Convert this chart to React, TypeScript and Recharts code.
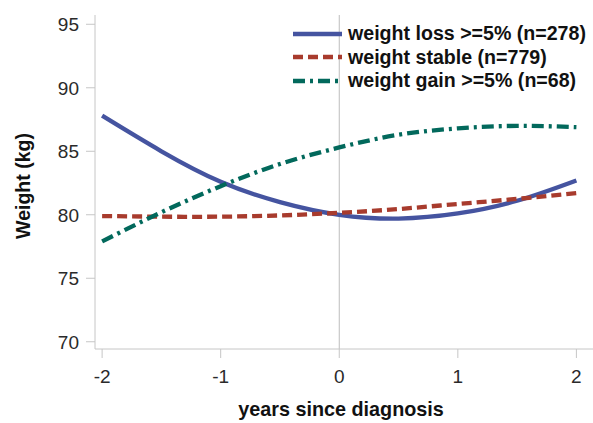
import { LineChart, Line, XAxis, YAxis, ReferenceLine, Legend, Label } from 'recharts';

// values, every half year
const years = [-2, -1.5, -1, -0.5, 0, 0.5, 1, 1.5, 2];
const weightLoss = [87.8, 85.0, 82.6, 81.0, 80.0, 79.7, 80.1, 81.1, 82.7];
const weightStable = [79.9, 79.85, 79.85, 79.95, 80.15, 80.45, 80.85, 81.25, 81.7];
const weightGain = [77.9, 80.2, 82.25, 84.0, 85.3, 86.3, 86.8, 87.0, 86.9];

const xTicks = [-2, -1, 0, 1, 2];
const yTicks = [70, 75, 80, 85, 90, 95];

const seriesNames = ['weight loss >=5% (n=278)', 'weight stable (n=779)', 'weight gain >=5% (n=68)'];
const seriesKeys = ['loss', 'stable', 'gain'];
const seriesColors = ['#4554a0', '#a83b2d', '#02695c'];
const seriesDashes = ['', '10 5', '12 5 3 5'];

const data = years.map((t, i) => ({
  t,
  loss: weightLoss[i],
  stable: weightStable[i],
  gain: weightGain[i],
}));

const FONT = '"Liberation Sans", Arial, sans-serif';
const frameColor = '#c6c6c6';

function LegendBox() {
  return (
    <div style={{ fontFamily: FONT, fontWeight: 'bold', fontSize: 19.6, color: '#111' }}>
      {seriesNames.map((name, i) => (
        <div key={name} style={{ display: 'flex', alignItems: 'center', height: 23.5 }}>
          <svg width={49} height={10} style={{ marginRight: 6 }}>
            <line
              x1={0}
              x2={49}
              y1={5}
              y2={5}
              stroke={seriesColors[i]}
              strokeWidth={4.5}
              strokeDasharray={seriesDashes[i] || undefined}
            />
          </svg>
          <span style={{ lineHeight: '23.5px', whiteSpace: 'nowrap' }}>{name}</span>
        </div>
      ))}
    </div>
  );
}

function YTitle(props: any) {
  const vb = props.viewBox || {};
  const cx = (vb.x || 0) + 23;
  const cy = (vb.y || 0) + (vb.height || 0) / 2 + 4;
  return (
    <text
      x={cx}
      y={cy}
      transform={`rotate(-90, ${cx}, ${cy})`}
      textAnchor="middle"
      dominantBaseline="central"
      fontFamily={FONT}
      fontWeight="bold"
      fontSize={19.5}
      fill="#111"
    >
      Weight (kg)
    </text>
  );
}

export default function App() {
  return (
    <div style={{ position: 'absolute', left: 0, top: 0, width: 593, height: 423, background: '#fff', fontFamily: FONT }}>
      <LineChart width={593} height={423} data={data} margin={{ top: 15, right: 0, bottom: 0, left: 0 }}>
        <XAxis
          xAxisId="top"
          orientation="top"
          dataKey="t"
          type="number"
          domain={[-2.06, 2.14]}
          allowDataOverflow
          height={0}
          tick={false}
          tickLine={false}
          stroke={frameColor}
        />
        <XAxis
          dataKey="t"
          type="number"
          domain={[-2.06, 2.14]}
          allowDataOverflow
          ticks={xTicks}
          height={74}
          tickSize={9}
          tickMargin={12}
          stroke={frameColor}
          tick={{ fill: '#2a2a2a', fontSize: 19, fontFamily: FONT }}
        >
          <Label
            value="years since diagnosis"
            position="insideBottom"
            offset={7}
            dx={-3}
            style={{ fontFamily: FONT, fontWeight: 'bold', fontSize: 19.8, fill: '#111' }}
          />
        </XAxis>
        <YAxis
          type="number"
          domain={[69.43, 95.73]}
          allowDataOverflow
          ticks={yTicks}
          width={95}
          tickSize={9}
          tickMargin={7}
          stroke={frameColor}
          tick={{ fill: '#2a2a2a', fontSize: 19, fontFamily: FONT }}
        >
          <Label content={<YTitle />} />
        </YAxis>
        <ReferenceLine x={0} stroke="#bdbdbd" strokeWidth={1} />
        {seriesKeys.map((key, i) => (
          <Line
            key={key}
            type="natural"
            dataKey={key}
            name={seriesNames[i]}
            stroke={seriesColors[i]}
            strokeWidth={4.3}
            strokeDasharray={seriesDashes[i] || undefined}
            dot={false}
            activeDot={false}
            isAnimationActive={false}
          />
        ))}
        <Legend
          layout="vertical"
          align="center"
          verticalAlign="middle"
          wrapperStyle={{ top: 22, left: 293, width: 300 }}
          content={() => <LegendBox />}
        />
      </LineChart>
    </div>
  );
}
